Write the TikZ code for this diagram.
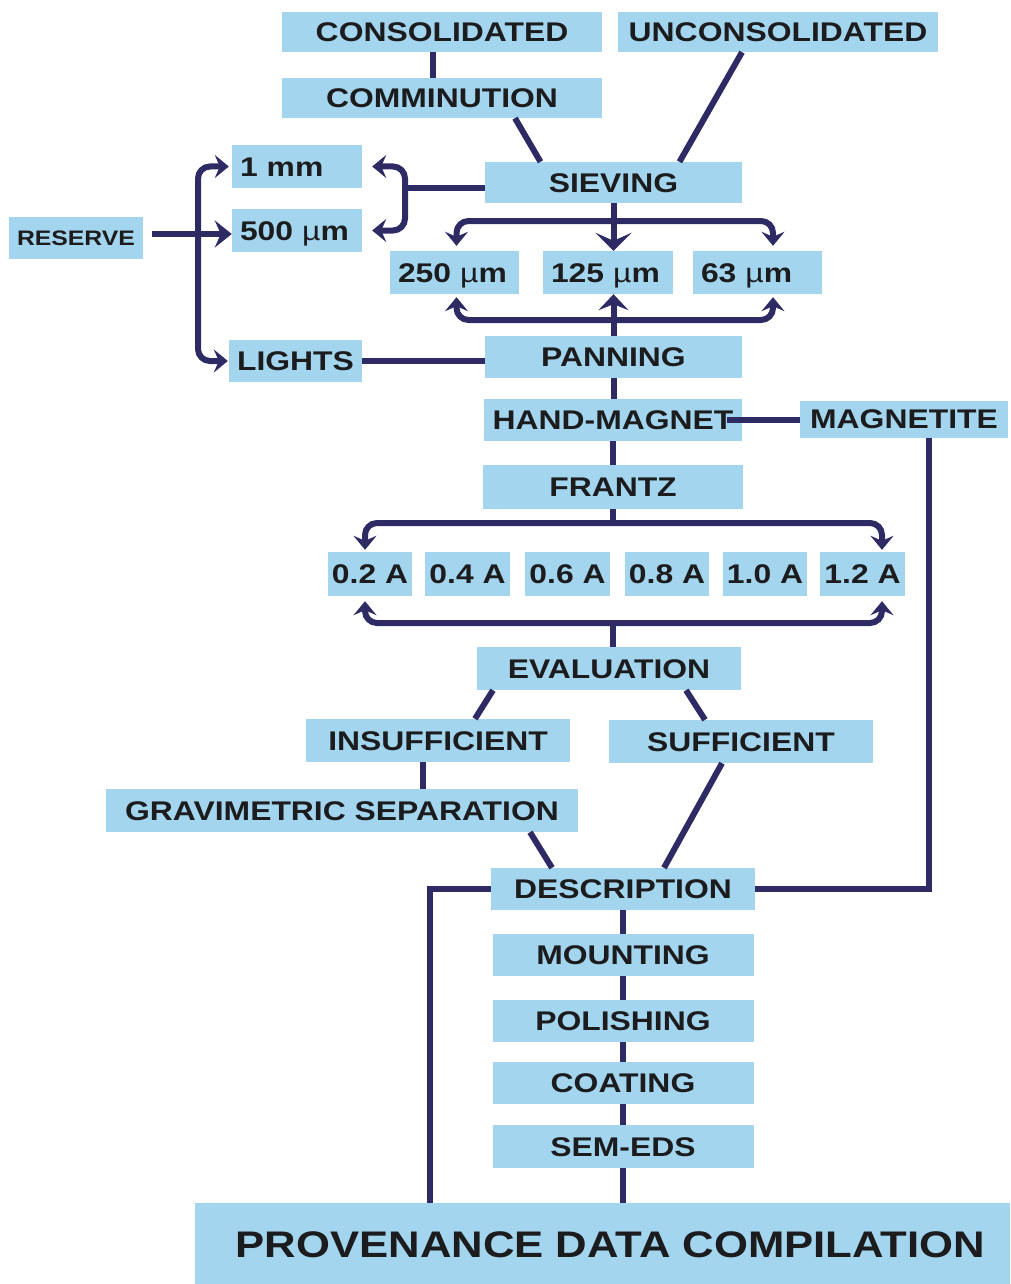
\documentclass[tikz,border=0pt]{standalone}
\usepackage{fontspec}
\newfontfamily\labfont{Liberation Sans}[FakeStretch=1.18]
\usetikzlibrary{arrows.meta}
\definecolor{boxblue}{RGB}{163,214,238}
\definecolor{linecol}{RGB}{46,42,100}
\definecolor{txtcol}{RGB}{28,28,30}
\begin{document}
\begin{tikzpicture}[x=1pt,y=-1pt,
 box/.style={fill=boxblue, draw=none, inner sep=0pt, text=txtcol,
   font=\labfont\bfseries\fontsize{27}{30}\selectfont,
   text height=19.5pt, text depth=0pt, align=center},
 lbox/.style={box, align=left, inner xsep=8pt},
 ln/.style={draw=linecol, line width=6pt},
 ar/.style={ln, -{Stealth[length=14pt,width=23pt,inset=5pt]}},
 bar/.style={ln, -{Stealth[length=18pt,width=36pt,inset=8pt]}},
 barup/.style={ln, -{Stealth[length=16pt,width=30pt,inset=6pt]}},
 rar/.style={ln, -{Stealth[length=17pt,width=27pt,inset=6pt]}},
 rc/.style={rounded corners=12pt}]
\useasboundingbox (0,0) rectangle (1010,1284);

% nodes
\node[box, minimum width=320pt, minimum height=40pt] (cons) at (442,32) {CONSOLIDATED};
\node[box, minimum width=320pt, minimum height=40pt] (uncons) at (778,32) {UNCONSOLIDATED};
\node[box, minimum width=320pt, minimum height=40pt] (comm) at (442,98) {COMMINUTION};
\node[box, minimum width=257pt, minimum height=41pt] (siev) at (613.5,182.5) {SIEVING};
\node[lbox, text width=114pt, minimum height=43pt] (mm1) at (297,166.5) {1 mm};
\node[lbox, text width=114pt, minimum height=43pt] (m500) at (297,230.5) {500 {\mdseries µ}m};
\node[box, minimum width=134pt, minimum height=42pt,
      font=\labfont\bfseries\fontsize{21}{24}\selectfont, text height=15pt] (reserve) at (76,238) {RESERVE};
\node[box, minimum width=133pt, minimum height=42pt] (lights) at (295.5,361) {LIGHTS};
\node[lbox, text width=113pt, minimum height=43pt] (u250) at (454.5,272.5) {250 {\mdseries µ}m};
\node[lbox, text width=114pt, minimum height=43pt] (u125) at (608,272.5) {125 {\mdseries µ}m};
\node[lbox, text width=113pt, minimum height=43pt] (u63) at (757.5,272.5) {63 {\mdseries µ}m};
\node[box, minimum width=257pt, minimum height=42pt] (pann) at (613.5,357) {PANNING};
\node[box, minimum width=258pt, minimum height=42pt] (hand) at (613,420) {HAND-MAGNET};
\node[box, minimum width=208pt, minimum height=37pt] (magn) at (904,419) {MAGNETITE};
\node[box, minimum width=260pt, minimum height=44pt] (frantz) at (613,487) {FRANTZ};
\node[box, minimum width=84pt, minimum height=44pt] (a02) at (370,574) {0.2 A};
\node[box, minimum width=85pt, minimum height=44pt] (a04) at (467.5,574) {0.4 A};
\node[box, minimum width=85pt, minimum height=44pt] (a06) at (567.5,574) {0.6 A};
\node[box, minimum width=84pt, minimum height=44pt] (a08) at (667,574) {0.8 A};
\node[box, minimum width=84pt, minimum height=44pt] (a10) at (765,574) {1.0 A};
\node[box, minimum width=85pt, minimum height=44pt] (a12) at (862.5,574) {1.2 A};
\node[box, minimum width=264pt, minimum height=43pt] (eval) at (609,668.5) {EVALUATION};
\node[box, minimum width=264pt, minimum height=43pt] (insuf) at (438,740.5) {INSUFFICIENT};
\node[box, minimum width=264pt, minimum height=43pt] (suf) at (741,741.5) {SUFFICIENT};
\node[box, minimum width=472pt, minimum height=43pt] (grav) at (342,810.5) {GRAVIMETRIC SEPARATION};
\node[box, minimum width=264pt, minimum height=42pt] (desc) at (623,889) {DESCRIPTION};
\node[box, minimum width=261pt, minimum height=42pt] (mount) at (623,955) {MOUNTING};
\node[box, minimum width=261pt, minimum height=42pt] (polish) at (623,1021) {POLISHING};
\node[box, minimum width=261pt, minimum height=42pt] (coat) at (623,1083) {COATING};
\node[box, minimum width=261pt, minimum height=43pt] (sem) at (623,1146.5) {SEM-EDS};
\node[box, minimum width=815pt, minimum height=81pt,
      font=\labfont\bfseries\fontsize{37}{41}\selectfont, text height=27pt] (prov) at (602.5,1243.5) {\hspace*{16pt}PROVENANCE DATA COMPILATION};

% top connectors
\draw[ln] ([xshift=-9pt]cons.south) -- ([xshift=-9pt]comm.north);
\draw[ln] ([xshift=73pt]comm.south) -- ([xshift=-73pt]siev.north);
\draw[ln] ([xshift=-36pt]uncons.south) -- ([xshift=66pt]siev.north);

% sieving to 1 mm / 500
\coordinate (sj) at (405,188);
\draw[ln] (siev.west |- sj) -- (sj);
\draw[ar,rc] (sj) |- ([xshift=10pt]mm1.east);
\draw[ar,rc] (sj) |- ([xshift=10pt]m500.east);

% reserve
\coordinate (rj) at (198,234);
\coordinate (rs) at ([xshift=9pt]reserve.east);
\draw[rar] (rs |- rj) -- (m500.west |- rj);
\draw[ar,rc] (rj) |- ([xshift=-3pt]mm1.west);
\draw[ar,rc] (rj) |- ([xshift=-1pt]lights.west);

% lights to panning
\draw[ln] (lights.east) -- (lights.east -| pann.west);

% sieving to fractions
\draw[bar] (siev.south) -- (siev.south |- u125.north);
\coordinate (tj) at (613.5,221);
\draw[ar,rc] (tj) -| ([xshift=2pt,yshift=5pt]u250.north);
\draw[ar,rc] (tj) -| ([xshift=15.5pt,yshift=5pt]u63.north);

% panning to fractions
\draw[barup] (pann.north) -- (pann.north |- u125.south);
\coordinate (bj) at (613.5,320);
\draw[ar,rc] (bj) -| ([xshift=2pt,yshift=-3pt]u250.south);
\draw[ar,rc] (bj) -| ([xshift=15.5pt,yshift=-3pt]u63.south);

% chain
\draw[ln] (pann.south) -- (pann.south |- hand.north);
\draw[ln] (hand.south) -- (hand.south |- frantz.north);
\draw[ln] ([xshift=-15pt]hand.east) -- (hand.east -| magn.west);
\draw[ln] ([xshift=25pt]magn.south) |- (desc.east);

% frantz brackets
\coordinate (fj) at (613,523);
\draw[ln] (frantz.south) -- (fj);
\draw[ar,rc] (fj) -| ([xshift=-5pt,yshift=2pt]a02.north);
\draw[ar,rc] (fj) -| ([xshift=19.5pt,yshift=2pt]a12.north);
\coordinate (ej) at (613,623);
\draw[ar,rc] (ej) -| ([xshift=-5pt,yshift=-5pt]a02.south);
\draw[ar,rc] (ej) -| ([xshift=19.5pt,yshift=-5pt]a12.south);
\draw[ln] (ej) -- (ej |- eval.north);

% evaluation branches
\draw[ln] ([xshift=-116pt]eval.south) -- ([xshift=37pt]insuf.north);
\draw[ln] ([xshift=77pt]eval.south) -- ([xshift=-36pt]suf.north);
\draw[ln] ([xshift=-15pt]insuf.south) -- ([xshift=81pt]grav.north);
\draw[ln] ([xshift=188pt]grav.south) -- ([xshift=-71pt]desc.north);
\draw[ln] ([xshift=-19pt]suf.south) -- ([xshift=41pt]desc.north);

% lower chain
\draw[ln] (desc.south) -- (mount.north);
\draw[ln] (mount.south) -- (polish.north);
\draw[ln] (polish.south) -- (coat.north);
\draw[ln] (coat.south) -- (sem.north);
\draw[ln] (sem.south) -- (sem.south |- prov.north);
\draw[ln] (desc.west) -| ([xshift=-172.5pt]prov.north);
\end{tikzpicture}
\end{document}
